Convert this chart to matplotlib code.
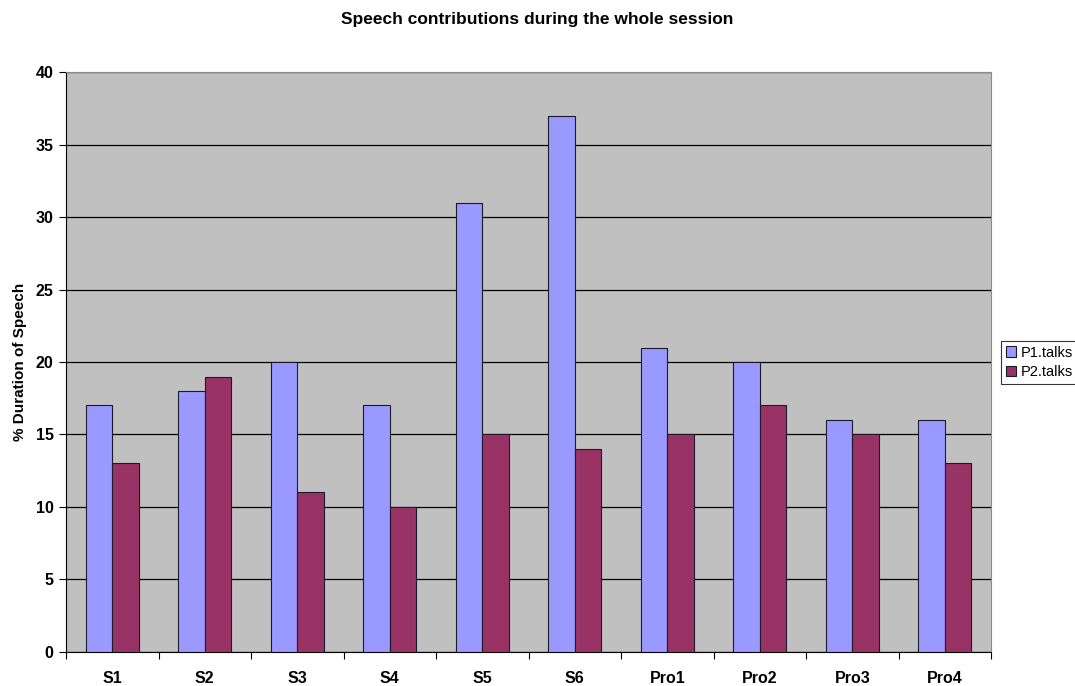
import numpy as np
import matplotlib
matplotlib.use('Agg')
import matplotlib.pyplot as plt

sessions = ['S1', 'S2', 'S3', 'S4', 'S5', 'S6', 'Pro1', 'Pro2', 'Pro3', 'Pro4']
p1_talks = [17, 18, 20, 17, 31, 37, 21, 20, 16, 16]
p2_talks = [13, 19, 11, 10, 15, 14, 15, 17, 15, 13]

plt.rcParams['font.family'] = ['Liberation Sans', 'DejaVu Sans']

fig = plt.figure(figsize=(10.75, 6.86), dpi=100)
ax = fig.add_axes([0.0614, 0.0496, 0.8605, 0.8454])
ax.set_facecolor('#c0c0c0')

x = np.arange(len(sessions))
w = 0.287
ax.bar(x - w / 2, p1_talks, w, color='#9999ff', edgecolor='#1a1a2a', linewidth=0.8,
       label='P1.talks', zorder=3)
ax.bar(x + w / 2, p2_talks, w, color='#993366', edgecolor='#1a1a2a', linewidth=0.8,
       label='P2.talks', zorder=3)

ax.set_xlim(-0.5, len(sessions) - 0.5)
ax.set_ylim(0, 40)
ax.set_yticks(range(0, 41, 5))
ax.yaxis.grid(True, color='black', linewidth=0.9, zorder=1)
ax.set_axisbelow(True)

# category ticks sit between groups, labels in the middle
ax.set_xticks(np.arange(len(sessions) + 1) - 0.5)
ax.set_xticklabels([])
ax.set_xticks(x, minor=True)
ax.set_xticklabels(sessions, minor=True, fontweight='bold', fontsize=11.5)
ax.tick_params(axis='x', which='minor', length=0, pad=14)
ax.tick_params(axis='x', which='major', length=5, width=0.8, direction='out')
ax.tick_params(axis='y', length=5, width=0.8, direction='out', pad=4)
for lbl in ax.get_yticklabels():
    lbl.set_fontweight('bold')
    lbl.set_fontsize(11.5)

ax.spines['left'].set_color('black')
ax.spines['bottom'].set_color('black')
ax.spines['top'].set_color('#8c8c8c')
ax.spines['right'].set_color('#8c8c8c')

ax.set_ylabel('% Duration of Speech', fontweight='bold', fontsize=11, labelpad=6)
fig.suptitle('Speech contributions during the whole session', fontweight='bold',
             fontsize=12.5, y=0.982)

leg = fig.legend(*ax.get_legend_handles_labels(), loc='center left',
                 bbox_to_anchor=(0.931, 0.472), frameon=True,
                 fancybox=False, edgecolor='black', fontsize=10.5,
                 handlelength=0.7, handleheight=0.7, handletextpad=0.3,
                 borderpad=0.35, labelspacing=0.35, borderaxespad=0)
leg.get_frame().set_linewidth(0.8)

fig.savefig('out.png', dpi=100)
